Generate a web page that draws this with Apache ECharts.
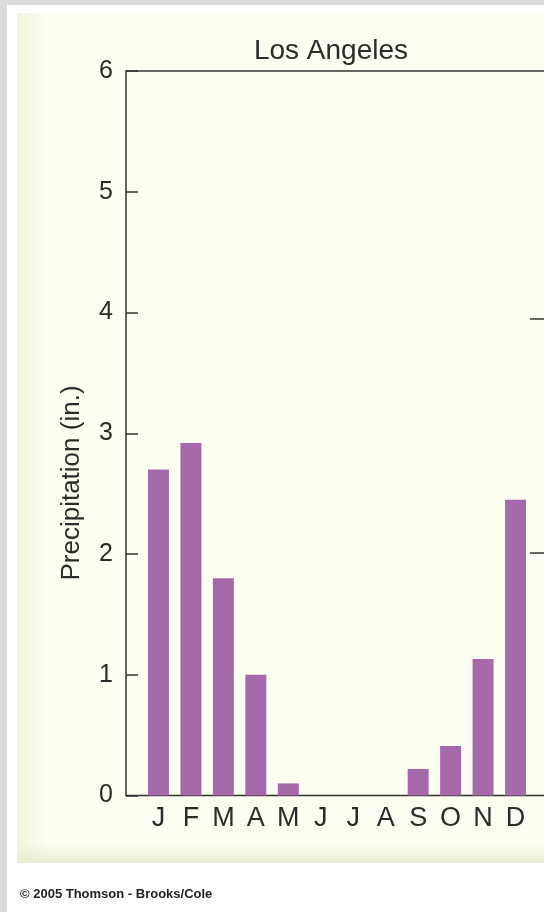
<!DOCTYPE html>
<html>
<head>
<meta charset="utf-8">
<script src="https://cdn.jsdelivr.net/npm/echarts@6/dist/echarts.min.js"></script>
<style>
html,body{margin:0;padding:0;background:#fff;}
#chart{width:544px;height:912px;}
</style>
</head>
<body>
<div id="chart"></div>
<script>
// Data
const months = ['J','F','M','A','M','J','J','A','S','O','N','D'];
const precipitation = [2.7, 2.92, 1.8, 1.0, 0.1, 0, 0, 0, 0.22, 0.41, 1.13, 2.45];
const yTicks = [0, 1, 2, 3, 4, 5, 6];
const rightTicks = [2.01, 3.95];

const FONT = 'Liberation Sans';
const TXT = '#2b2b2b';

const chart = echarts.init(document.getElementById('chart'), null, {renderer: 'canvas'});

const option = {
  backgroundColor: '#ffffff',
  animation: false,
  graphic: [
    {type: 'rect', z: -10, shape: {x: 0, y: 0, width: 544, height: 5}, style: {fill: '#dcdcdc'}},
    {type: 'rect', z: -10, shape: {x: 0, y: 0, width: 7, height: 912}, style: {fill: '#dcdcdc'}},
    {type: 'rect', z: -9, shape: {x: 17, y: 13, width: 540, height: 850}, style: {fill: '#fdfdf1'}},
    {type: 'rect', z: -8, shape: {x: 17, y: 13, width: 30, height: 850},
      style: {fill: new echarts.graphic.LinearGradient(0, 0, 1, 0, [
        {offset: 0, color: 'rgba(236,238,210,0.6)'}, {offset: 1, color: 'rgba(236,238,210,0)'}])}},
    {type: 'rect', z: -8, shape: {x: 17, y: 843, width: 540, height: 20},
      style: {fill: new echarts.graphic.LinearGradient(0, 0, 0, 1, [
        {offset: 0, color: 'rgba(232,235,205,0)'}, {offset: 1, color: 'rgba(230,232,205,0.8)'}])}},
    {type: 'text', x: 331, y: 51, style: {text: 'Los Angeles', font: '28px "' + FONT + '"', fill: TXT, align: 'center', verticalAlign: 'middle'}},
    {type: 'text', x: 72, y: 483, rotation: Math.PI / 2, style: {text: 'Precipitation (in.)', font: '26px "' + FONT + '"', fill: TXT, align: 'center', verticalAlign: 'middle'}},
    {type: 'text', x: 20, y: 894, style: {text: '\u00A9 2005 Thomson - Brooks/Cole', font: 'bold 13px "' + FONT + '"', fill: '#222', align: 'left', verticalAlign: 'middle'}}
  ],
  grid: {
    left: 126, top: 71, right: -4, bottom: 116.5,
    containLabel: false, outerBoundsMode: 'none',
    show: true, borderColor: '#333', borderWidth: 1.5, backgroundColor: 'transparent'
  },
  xAxis: {
    type: 'value', min: -1, max: 12, interval: 1,
    axisLine: {show: false, onZero: false}, axisTick: {show: false}, splitLine: {show: false},
    axisLabel: {
      margin: 10, fontSize: 27, fontFamily: FONT, color: TXT,
      formatter: v => months[v] !== undefined ? months[v] : ''
    }
  },
  yAxis: [
    {
      type: 'value', min: yTicks[0], max: yTicks[yTicks.length - 1], interval: 1,
      axisLine: {show: false, onZero: false}, splitLine: {show: false},
      axisTick: {show: true, inside: true, length: 12, lineStyle: {color: '#333', width: 1.5}},
      axisLabel: {margin: 13, fontSize: 25, fontFamily: FONT, color: TXT}
    },
    {
      type: 'value', position: 'right', min: 0, max: 6,
      axisLine: {show: false, onZero: false}, splitLine: {show: false},
      axisTick: {show: true, inside: true, length: 18, customValues: rightTicks, lineStyle: {color: '#333', width: 1.5}},
      axisLabel: {show: false}
    }
  ],
  series: [{
    type: 'bar',
    barWidth: 21,
    itemStyle: {color: '#a66aaa'},
    data: precipitation.map((v, i) => [i, v])
  }]
};
chart.setOption(option);
</script>
</body>
</html>
